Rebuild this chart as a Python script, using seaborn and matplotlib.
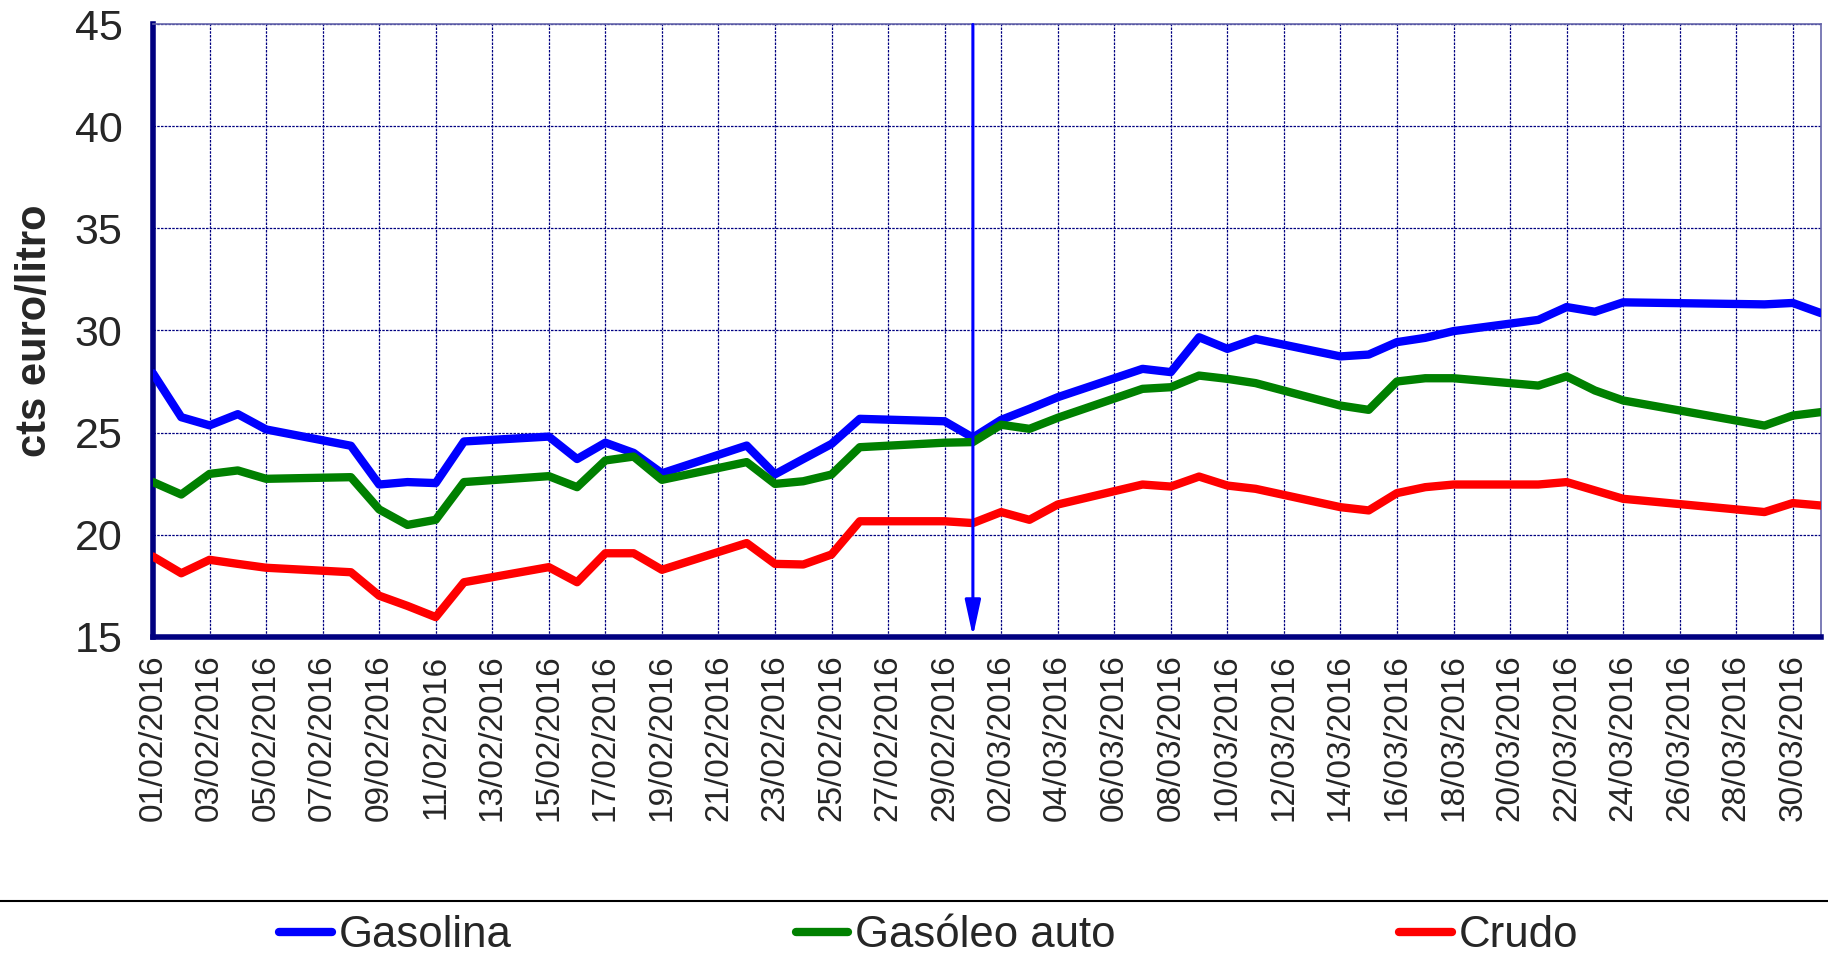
import pandas as pd
import matplotlib
matplotlib.use("Agg")
import matplotlib.pyplot as plt
import matplotlib.dates as mdates
from matplotlib.lines import Line2D
import seaborn as sns


# trading days (weekdays, Easter 25/03 and 28/03 missing)
fechas = [
    "2016-02-01", "2016-02-02", "2016-02-03", "2016-02-04", "2016-02-05",
    "2016-02-08", "2016-02-09", "2016-02-10", "2016-02-11", "2016-02-12",
    "2016-02-15", "2016-02-16", "2016-02-17", "2016-02-18", "2016-02-19",
    "2016-02-22", "2016-02-23", "2016-02-24", "2016-02-25", "2016-02-26",
    "2016-02-29",
    "2016-03-01", "2016-03-02", "2016-03-03", "2016-03-04",
    "2016-03-07", "2016-03-08", "2016-03-09", "2016-03-10", "2016-03-11",
    "2016-03-14", "2016-03-15", "2016-03-16", "2016-03-17", "2016-03-18",
    "2016-03-21", "2016-03-22", "2016-03-23", "2016-03-24",
    "2016-03-29", "2016-03-30", "2016-03-31",
]

gasolina = [
    27.9, 25.75, 25.35, 25.9, 25.15,
    24.35, 22.45, 22.57, 22.52, 24.56,
    24.8, 23.7, 24.5, 24.0, 23.0,
    24.36, 22.95, 23.7, 24.44, 25.67,
    25.55,
    24.75, 25.62, 26.16, 26.73,
    28.12, 27.96, 29.67, 29.1, 29.59,
    28.73, 28.82, 29.43, 29.64, 29.97,
    30.52, 31.15, 30.92, 31.38,
    31.28, 31.35, 30.85,
]

gasoleo = [
    22.57, 21.96, 22.97, 23.14, 22.73,
    22.81, 21.23, 20.47, 20.72, 22.57,
    22.86, 22.32, 23.63, 23.82, 22.68,
    23.55, 22.48, 22.61, 22.94, 24.28,
    24.5,
    24.53, 25.38, 25.18, 25.72,
    27.14, 27.22, 27.79, 27.63, 27.42,
    26.32, 26.11, 27.5, 27.66, 27.66,
    27.3, 27.75, 27.06, 26.57,
    25.34, 25.83, 26.0,
]

crudo = [
    18.92, 18.1, 18.76, 18.56, 18.37,
    18.15, 17.0, 16.5, 15.95, 17.66,
    18.4, 17.66, 19.08, 19.08, 18.27,
    19.58, 18.56, 18.53, 19.02, 20.65,
    20.65,
    20.56, 21.1, 20.72, 21.47,
    22.45, 22.35, 22.84, 22.4, 22.24,
    21.34, 21.18, 22.03, 22.32, 22.45,
    22.45, 22.57, 22.16, 21.75,
    21.1, 21.54, 21.42,
]

series = ["Gasolina", "Gasóleo auto", "Crudo"]
colores = ["#0000FF", "#008000", "#FF0000"]
arrow_date = "2016-03-01"

df = pd.DataFrame({
    "fecha": pd.to_datetime(fechas),
    "Gasolina": gasolina,
    "Gasóleo auto": gasoleo,
    "Crudo": crudo,
})
largo = df.melt(id_vars="fecha", var_name="serie", value_name="valor")

sns.set_style("white")
plt.rcParams["font.family"] = ["Liberation Sans", "DejaVu Sans"]

navy = "#000080"

fig = plt.figure(figsize=(18.28, 9.57), dpi=100)
ax = fig.add_axes([0.0837, 0.3349, 0.9125, 0.6395])

sns.lineplot(
    data=largo,
    x="fecha",
    y="valor",
    hue="serie",
    hue_order=series,
    palette=colores,
    linewidth=6,
    legend=False,
    ax=ax,
    zorder=3
)

# arrow marking the date
ad = pd.Timestamp(arrow_date)
ax.annotate(
    "",
    xy=(ad, 15),
    xytext=(ad, 45),
    arrowprops=dict(
        arrowstyle="-|>,head_width=0.24,head_length=1.1",
        color="#0000FF",
        lw=2.2,
        shrinkA=0,
        shrinkB=0,
        mutation_scale=20
    ),
    zorder=5
)

ax.set_xlim(pd.Timestamp("2016-02-01"), pd.Timestamp("2016-03-31"))
ax.set_ylim(15, 45)

xticks = pd.date_range("2016-02-01", "2016-03-31", freq="2D")
ax.set_xticks(xticks)
ax.xaxis.set_major_formatter(mdates.DateFormatter("%d/%m/%Y"))
ax.set_yticks(range(15, 46, 5))

ax.tick_params(axis="x", direction="inout", length=14, width=3,
               color=navy, labelsize=24, rotation=90, pad=6)
ax.tick_params(axis="y", direction="inout", length=14, width=3,
               color=navy, labelsize=31, pad=15)

ax.grid(True, color=navy, linestyle=(0, (2, 1)), linewidth=0.9)
ax.set_axisbelow(True)

for side in ["left", "bottom"]:
    ax.spines[side].set_color(navy)
    ax.spines[side].set_linewidth(4)
for side in ["top", "right"]:
    ax.spines[side].set_color("#6666AA")
    ax.spines[side].set_linewidth(1.2)

ax.set_xlabel("")
ax.set_ylabel("cts euro/litro", fontsize=30, fontweight="bold")
ax.yaxis.set_label_coords(-0.059, 0.5)

# separator and legend at the bottom
fig.add_artist(Line2D([0, 1], [0.0585, 0.0585],
                      transform=fig.transFigure, color="black", lw=1.5))

handles = [Line2D([], [], color=c, lw=6) for c in colores]
fig.legend(
    handles,
    series,
    loc="center",
    bbox_to_anchor=(0.508, 0.022),
    ncol=3,
    frameon=False,
    fontsize=31.5,
    handlelength=1.2,
    handletextpad=0.15,
    columnspacing=6.5,
    borderpad=0
)

plt.savefig("out.png", dpi=100)
